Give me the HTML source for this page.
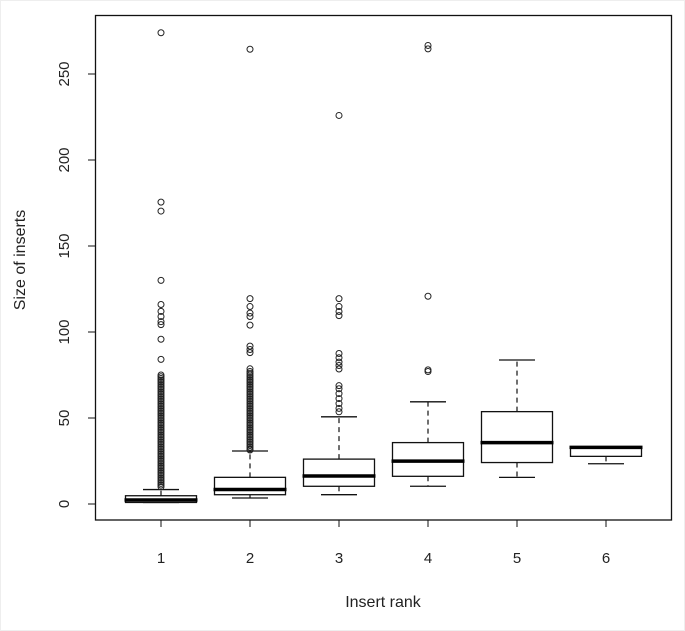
<!DOCTYPE html>
<html><head><meta charset="utf-8"><style>
html,body{margin:0;padding:0;background:#fff}
svg{display:block}
text{font-family:"Liberation Sans",Arial,sans-serif;fill:#222}
</style></head><body>
<svg id="chart" width="685" height="631" viewBox="0 0 685 631" xmlns="http://www.w3.org/2000/svg">
<rect x="0.5" y="0.5" width="684" height="630" fill="#fff" stroke="#eee"/>
<g id="plot"></g>
</svg>
<script>
const categories = ["1","2","3","4","5","6"];
const q1 = [0.9, 5.4, 10.3, 16.1, 24.1, 27.7];
const medians = [2.3, 8.4, 16.3, 24.9, 35.7, 32.9];
const q3 = [4.8, 15.5, 26.1, 35.7, 53.7, 32.9];
const lowerWhisker = [0.9, 3.5, 5.4, 10.3, 15.5, 23.4];
const upperWhisker = [8.4, 30.8, 50.7, 59.4, 83.7, 32.9];
const outliers1 = [274, 175.5, 170.3, 130, 116, 112, 109, 106, 104.3, 95.8, 84.1, 75, 74, 73, 72, 71, 70, 69, 68, 67, 66, 65, 64, 63, 62, 61, 60, 59, 58, 57, 56, 55, 54, 53, 52, 51, 50, 49, 48, 47, 46, 45, 44, 43, 42, 41, 40, 39, 38, 37, 36, 35, 34, 33, 32, 31, 30, 29, 28, 27, 26, 25, 24, 23, 22, 21, 20, 19, 18, 17, 16, 15, 14, 13, 12, 11, 10];
const outliers2 = [264.4, 119.4, 114.8, 111, 109, 104, 91.8, 89.8, 88, 78.6, 77, 76, 75, 74, 73, 72, 71, 70, 69, 68, 67, 66, 65, 64, 63, 62, 61, 60, 59, 58, 57, 56, 55, 54, 53, 52, 51, 50, 49, 48, 47, 46, 45, 44, 43, 42, 41, 40, 39, 38, 37, 36, 35, 34, 33, 32, 31.4];
const outliers3 = [225.9, 119.4, 114.8, 111.9, 109.5, 87.5, 85, 82.5, 80.5, 78.5, 68.8, 67, 64.2, 61.3, 58.4, 55.6, 53.6];
const outliers4 = [266.6, 264.6, 120.8, 78, 77];
const outliers5 = [];
const outliers6 = [];
const outliers = [outliers1, outliers2, outliers3, outliers4, outliers5, outliers6];
const yTicks = [0, 50, 100, 150, 200, 250];

const NS = "http://www.w3.org/2000/svg";
const g = document.getElementById("plot");
const xScale = i => 161 + i * 89;
const yScale = v => 504 - v * 1.72;
const HW = 35.5;
function mk(tag, attrs, parent) {
  const e = document.createElementNS(NS, tag);
  for (const k in attrs) e.setAttribute(k, attrs[k]);
  (parent || g).appendChild(e);
  return e;
}
// frame
let f = mk("rect", {x:95.5, y:15.5, width:576, height:504.5, fill:"none", stroke:"#111", "stroke-width":1.3});


// y axis ticks
yTicks.forEach(t => {
  const y = yScale(t);
  let l = mk("line", {x1:88, x2:95.5, y1:y, y2:y, stroke:"#111", "stroke-width":1});
  
  
  let tx = mk("text", {x:0, y:0, transform:`translate(69,${y}) rotate(-90)`, "text-anchor":"middle", "font-size":"15"});
  tx.textContent = t;
  
  
});
categories.forEach((c, i) => {
  const x = xScale(i);
  let l = mk("line", {x1:x, x2:x, y1:520, y2:527, stroke:"#111", "stroke-width":1});
  
  
  let tx = mk("text", {x:x, y:563, "text-anchor":"middle", "font-size":"15"});
  tx.textContent = c;
  
  
  const grp = mk("g", {});
  
  
  // whiskers
  mk("line", {x1:x, x2:x, y1:yScale(q3[i]), y2:yScale(upperWhisker[i]), stroke:"#111", "stroke-dasharray":"5,4", "stroke-width":1.2}, grp);
  mk("line", {x1:x, x2:x, y1:yScale(q1[i]), y2:yScale(lowerWhisker[i]), stroke:"#111", "stroke-dasharray":"5,4", "stroke-width":1.2}, grp);
  mk("line", {x1:x-18, x2:x+18, y1:yScale(upperWhisker[i]), y2:yScale(upperWhisker[i]), stroke:"#111", "stroke-width":1.3}, grp);
  mk("line", {x1:x-18, x2:x+18, y1:yScale(lowerWhisker[i]), y2:yScale(lowerWhisker[i]), stroke:"#111", "stroke-width":1.3}, grp);
  mk("rect", {x:x-HW, y:yScale(q3[i]), width:2*HW, height:Math.max(0.5, yScale(q1[i])-yScale(q3[i])), fill:"#fff", stroke:"#111", "stroke-width":1.3}, grp);
  mk("line", {x1:x-HW-1, x2:x+HW+1, y1:yScale(medians[i]), y2:yScale(medians[i]), stroke:"#000", "stroke-width":3.5}, grp);
  outliers[i].forEach(v => {
    let p = mk("circle", {cx:x, cy:yScale(v), r:3, fill:"none", stroke:"#222", "stroke-width":1}, grp);
    
    
  });
});
let xt = mk("text", {x:383, y:607, "text-anchor":"middle", "font-size":"16"});
xt.textContent = "Insert rank";


let yt = mk("text", {x:0, y:0, transform:"translate(25,260) rotate(-90)", "text-anchor":"middle", "font-size":"16"});
yt.textContent = "Size of inserts";


</script>
</body></html>
